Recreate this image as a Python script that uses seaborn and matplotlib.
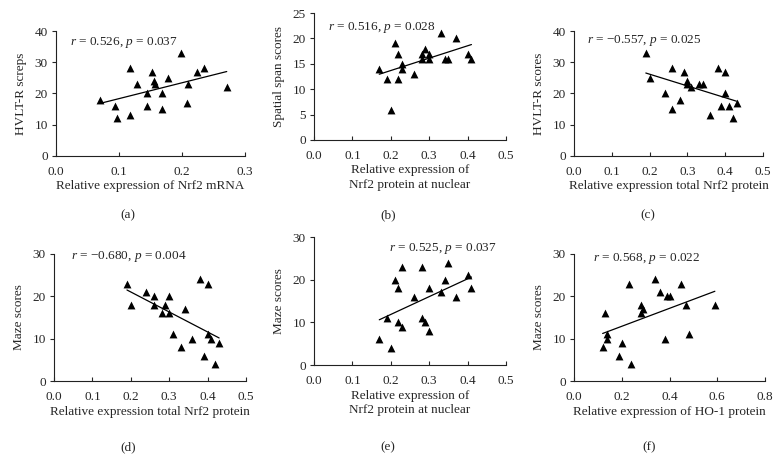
import numpy as np
import pandas as pd
import matplotlib
matplotlib.use("Agg")
import matplotlib.pyplot as plt
import seaborn as sns

sns.set_style("ticks")
plt.rcParams['font.family'] = ['Liberation Serif', 'DejaVu Serif']
plt.rcParams['mathtext.fontset'] = 'custom'
plt.rcParams['mathtext.it'] = 'Liberation Serif:italic'
plt.rcParams['mathtext.rm'] = 'Liberation Serif'

# ---- data ----
a_x = [0.07, 0.094, 0.097, 0.117, 0.117, 0.129, 0.144, 0.145, 0.152, 0.156,
       0.157, 0.168, 0.169, 0.178, 0.198, 0.208, 0.21, 0.224, 0.235, 0.271]
a_y = [18, 16, 12, 28, 13, 23, 20, 16, 27, 24, 23, 15, 20, 25, 33, 17, 23, 27, 28, 22]

b_x = [0.17, 0.19, 0.20, 0.21, 0.22, 0.22, 0.23, 0.23, 0.26, 0.28,
       0.28, 0.29, 0.30, 0.30, 0.33, 0.34, 0.35, 0.37, 0.40, 0.41]
b_y = [14, 12, 6, 19, 17, 12, 15, 14, 13, 17, 16, 18, 17, 16, 21, 16, 16, 20, 17, 16]

c_x = [0.19, 0.20, 0.24, 0.26, 0.26, 0.28, 0.29, 0.30, 0.30, 0.31,
       0.33, 0.34, 0.36, 0.38, 0.39, 0.40, 0.40, 0.41, 0.42, 0.43]
c_y = [33, 25, 20, 28, 15, 18, 27, 24, 23, 22, 23, 23, 13, 28, 16, 27, 20, 16, 12, 17]

d_x = [0.19, 0.20, 0.24, 0.26, 0.26, 0.28, 0.29, 0.30, 0.30, 0.31,
       0.33, 0.34, 0.36, 0.38, 0.39, 0.40, 0.40, 0.41, 0.42, 0.43]
d_y = [23, 18, 21, 20, 18, 16, 18, 20, 16, 11, 8, 17, 10, 24, 6, 23, 11, 10, 4, 9]

e_x = [0.17, 0.19, 0.20, 0.21, 0.22, 0.22, 0.23, 0.23, 0.26, 0.28,
       0.28, 0.29, 0.30, 0.30, 0.33, 0.34, 0.35, 0.37, 0.40, 0.41]
e_y = [6, 11, 4, 20, 18, 10, 23, 9, 16, 23, 11, 10, 18, 8, 17, 20, 24, 16, 21, 18]

f_x = [0.12, 0.13, 0.14, 0.14, 0.19, 0.20, 0.23, 0.24, 0.28, 0.28,
       0.29, 0.34, 0.36, 0.38, 0.39, 0.40, 0.45, 0.47, 0.48, 0.59]
f_y = [8, 16, 11, 10, 6, 9, 23, 4, 18, 16, 17, 24, 21, 10, 20, 20, 23, 18, 11, 18]

xlabels = ["Relative expression of Nrf2 mRNA",
           "Relative expression of\nNrf2 protein at nuclear",
           "Relative expression total Nrf2 protein",
           "Relative expression total Nrf2 protein",
           "Relative expression of\nNrf2 protein at nuclear",
           "Relative expression of HO-1 protein"]
ylabels = ["HVLT-R screps", "Spatial span scores", "HVLT-R scores",
           "Maze scores", "Maze scores", "Maze scores"]
stats = ["$r$ = 0.526, $p$ = 0.037", "$r$ = 0.516, $p$ = 0.028",
         "$r$ = \u22120.557, $p$ = 0.025", "$r$ = \u22120.680, $p$ = 0.004",
         "$r$ = 0.525, $p$ = 0.037", "$r$ = 0.568, $p$ = 0.022"]
captions = ["(a)", "(b)", "(c)", "(d)", "(e)", "(f)"]

xticks = [[0.0, 0.1, 0.2, 0.3], [0.0, 0.1, 0.2, 0.3, 0.4, 0.5],
          [0.0, 0.1, 0.2, 0.3, 0.4, 0.5], [0.0, 0.1, 0.2, 0.3, 0.4, 0.5],
          [0.0, 0.1, 0.2, 0.3, 0.4, 0.5], [0.0, 0.2, 0.4, 0.6, 0.8]]
yticks = [[0, 10, 20, 30, 40], [0, 5, 10, 15, 20, 25], [0, 10, 20, 30, 40],
          [0, 10, 20, 30], [0, 10, 20, 30], [0, 10, 20, 30]]

# ---- layout (pixels) ----
W, H = 780, 468
boxes = [(56, 245, 31, 156), (314, 506, 13, 140), (574, 763, 31, 156),
         (54, 246, 254, 381), (314, 506, 237, 365), (574, 765, 254, 381)]
text_pos = [(0.022, 36.2), (0.036, 22.2), (0.034, 37.1),
            (0.044, 29.3), (0.195, 27.2), (0.08, 29.0)]
cap_pos = [(128, 215), (388, 215), (648, 215), (128, 447), (388, 447), (649, 447)]

fig = plt.figure(figsize=(W / 100, H / 100), dpi=100)
fig.patch.set_facecolor('white')

datasets = [(a_x, a_y), (b_x, b_y), (c_x, c_y), (d_x, d_y), (e_x, e_y), (f_x, f_y)]
fs = 9.5
for i, (xs, ys) in enumerate(datasets):
    l, r, t, b = boxes[i]
    ax = fig.add_axes([l / W, 1 - b / H, (r - l) / W, (b - t) / H])
    df = pd.DataFrame({"x": xs, "y": ys})
    sns.regplot(data=df, x="x", y="y", ax=ax, ci=None, color="black",
                marker="^", scatter_kws={"s": 32, "linewidths": 0, "alpha": 1},
                line_kws={"linewidth": 0.9})
    ax.set_xlim(xticks[i][0], xticks[i][-1])
    ax.set_ylim(yticks[i][0], yticks[i][-1])
    ax.set_xticks(xticks[i])
    ax.set_yticks(yticks[i])
    ax.set_xticklabels([f"{v:.1f}" for v in xticks[i]], fontsize=fs)
    ax.set_yticklabels([str(v) for v in yticks[i]], fontsize=fs)
    ax.tick_params(axis='x', direction='in', length=3, width=0.8, pad=7)
    ax.tick_params(axis='y', direction='out', length=3, width=0.8, pad=3)
    for s in ['top', 'right']:
        ax.spines[s].set_visible(False)
    for s in ['left', 'bottom']:
        ax.spines[s].set_linewidth(0.8)
        ax.spines[s].set_color('#222222')
    ax.set_xlabel(xlabels[i], fontsize=fs, labelpad=2, linespacing=1.3)
    ax.set_ylabel(ylabels[i], fontsize=fs, labelpad=5)
    ax.text(text_pos[i][0], text_pos[i][1], stats[i], fontsize=fs,
            va='center', ha='left')
    ax.set_facecolor('white')
    fig.text(cap_pos[i][0] / W, 1 - cap_pos[i][1] / H, captions[i],
             fontsize=fs, ha='center', va='center')

fig.savefig("out.png", dpi=100, facecolor='white')
